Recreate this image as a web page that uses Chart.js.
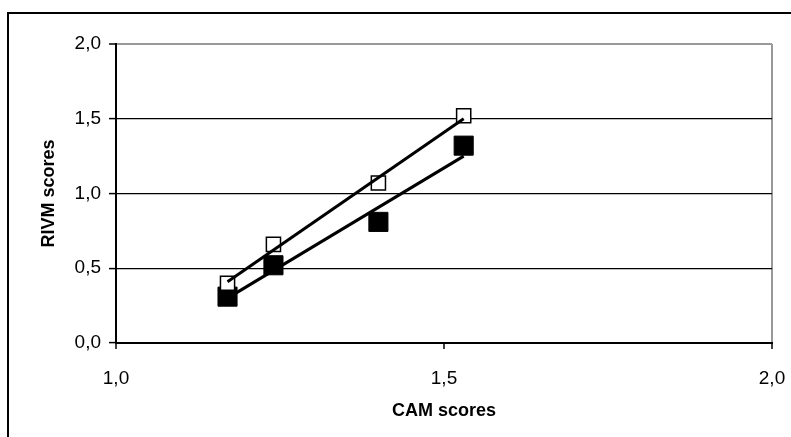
<!DOCTYPE html>
<html>
<head>
<meta charset="utf-8">
<script src="https://cdn.jsdelivr.net/npm/chart.js@4.4.1/dist/chart.umd.min.js"></script>
<style>
	html, body { margin: 0; padding: 0; background: #fff; }
	#wrap { position: relative; width: 791px; height: 437px; overflow: hidden; }
	#frame { position: absolute; left: 7px; top: 12px; width: 800px; height: 440px; border: 2px solid #000; box-sizing: border-box; }
	canvas { position: absolute; left: 0; top: 0; }
</style>
</head>
<body>
<div id="wrap">
	<div id="frame"></div>
	<canvas id="chart" width="791" height="437"></canvas>
</div>
<script>
// CAM scores (x) and RIVM scores (y)
const camScores = [1.17, 1.24, 1.40, 1.53];
const rivmOpen = [0.40, 0.66, 1.07, 1.52];
const rivmFilled = [0.31, 0.52, 0.81, 1.32];

// trendline end points
const trendX = [1.17, 1.53];
const trendOpen = [0.41, 1.50];
const trendFilled = [0.30, 1.25];

const xTicks = [1.0, 1.5, 2.0];
const yTicks = [0.0, 0.5, 1.0, 1.5, 2.0];

const font = { family: '"Liberation Sans", Arial, sans-serif', size: 19 };
const titleFont = { family: '"Liberation Sans", Arial, sans-serif', size: 18, weight: 'bold' };
const fmt = (v) => v.toFixed(1).replace('.', ',');
const pts = (xs, ys) => xs.map((x, i) => ({ x, y: ys[i] }));

new Chart(document.getElementById('chart'), {
	type: 'scatter',
	data: {
		datasets: [
			{
				type: 'line',
				data: pts(trendX, trendOpen),
				borderColor: '#000',
				borderWidth: 3,
				pointRadius: 0,
				fill: false,
				order: 0
			},
			{
				type: 'line',
				data: pts(trendX, trendFilled),
				borderColor: '#000',
				borderWidth: 3,
				pointRadius: 0,
				fill: false,
				order: 0
			},
			{
				data: pts(camScores, rivmOpen),
				pointStyle: 'rect',
				pointRadius: 10,
				pointHoverRadius: 10,
				backgroundColor: '#fff',
				borderColor: '#000',
				borderWidth: 1.5,
				order: 1
			},
			{
				data: pts(camScores, rivmFilled),
				pointStyle: 'rect',
				pointRadius: 13.5,
				pointHoverRadius: 13.5,
				backgroundColor: '#000',
				borderColor: '#000',
				borderWidth: 1,
				order: 1
			}
		]
	},
	options: {
		responsive: false,
		animation: false,
		devicePixelRatio: 1,
		layout: { padding: { left: 0, top: 44, right: 19, bottom: 0 } },
		plugins: { legend: { display: false }, tooltip: { enabled: false } },
		scales: {
			x: {
				type: 'linear',
				min: 1,
				max: 2,
				afterFit: (s) => { s.height = 94; s.paddingLeft = 0; s.paddingRight = 0; },
				afterBuildTicks: (s) => { s.ticks = xTicks.map((v) => ({ value: v })); },
				ticks: { color: '#000', font, padding: 18, callback: fmt, maxRotation: 0 },
				grid: {
					color: (c) => c.tick && c.tick.value === 2 ? '#999' : 'rgba(0,0,0,0)',
					lineWidth: 2,
					tickColor: '#000',
					tickLength: 6,
					tickWidth: 1.5
				},
				border: { color: '#000', width: 2 },
				title: {
					display: true,
					text: 'CAM scores',
					color: '#000',
					font: titleFont,
					padding: { top: 15, bottom: 15 }
				}
			},
			y: {
				type: 'linear',
				min: 0,
				max: 2,
				afterFit: (s) => { s.width = 116; s.paddingTop = 0; s.paddingBottom = 0; },
				afterBuildTicks: (s) => { s.ticks = yTicks.map((v) => ({ value: v })); },
				ticks: { color: '#000', font, padding: 8, callback: fmt },
				grid: {
					color: (c) => c.tick && c.tick.value === 2 ? '#999' : '#000',
					lineWidth: (c) => c.tick && c.tick.value === 2 ? 2 : 1.2,
					tickColor: '#000',
					tickLength: 7,
					tickWidth: 1.5
				},
				border: { color: '#000', width: 2 },
				title: {
					display: true,
					text: 'RIVM scores',
					color: '#000',
					font: titleFont,
					padding: { top: 38, bottom: 38 }
				}
			}
		}
	}
});
</script>
</body>
</html>
